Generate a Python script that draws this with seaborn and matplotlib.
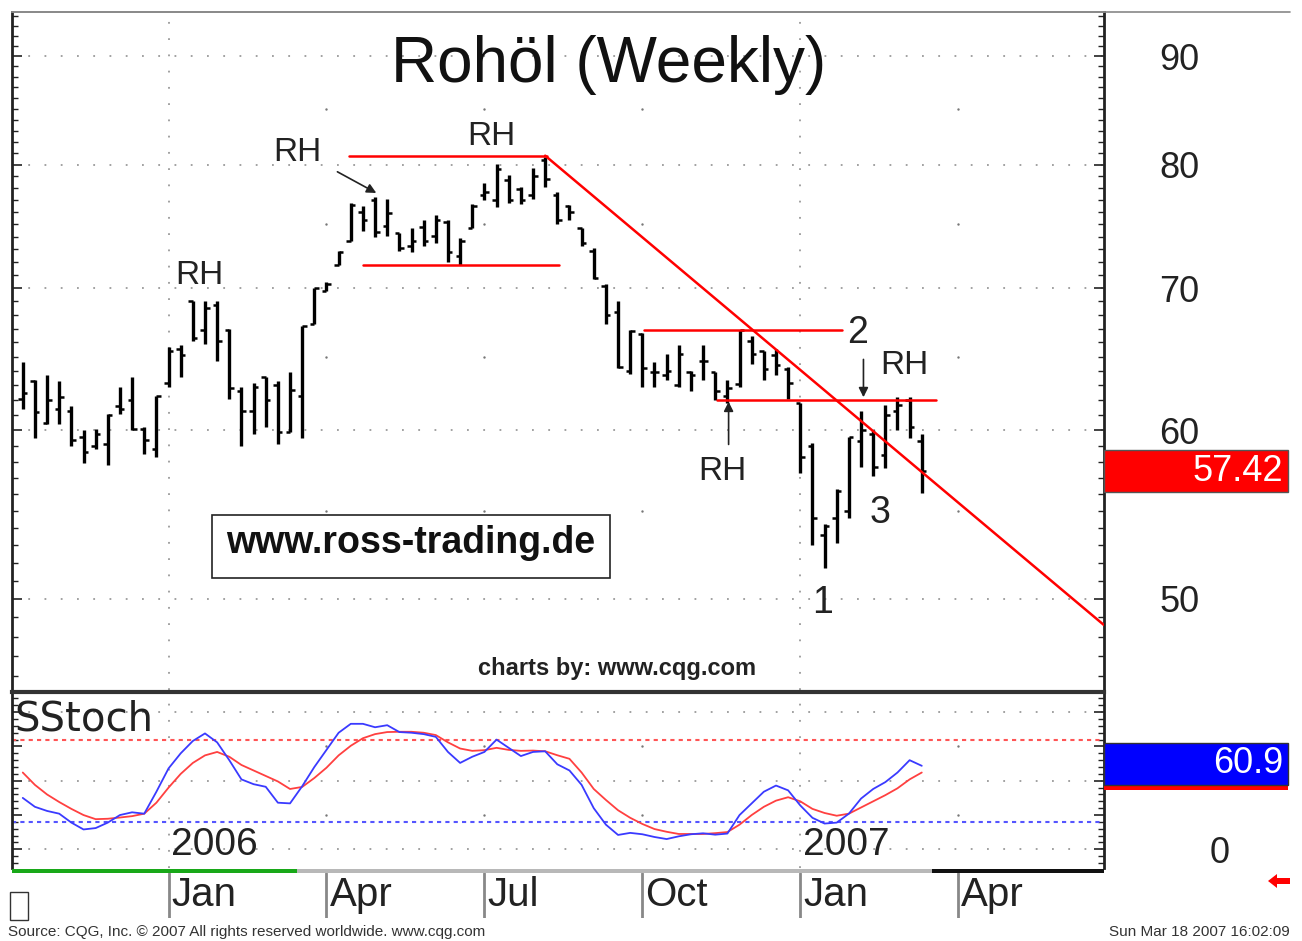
import numpy as np
import pandas as pd
import matplotlib
matplotlib.use("Agg")
import matplotlib.pyplot as plt
import matplotlib.dates as mdates
from matplotlib.patches import Rectangle, Polygon
from matplotlib.lines import Line2D
from matplotlib.ticker import FixedLocator, FixedFormatter, NullFormatter
import seaborn as sns

# weekly OHLC bars (week starting Monday)
week_start = "2005-10-10"
n_weeks = 75

opens = [62.1, 63.3, 60.5, 61.4, 61.3, 59.6, 59.0, 59.1, 61.6, 62.0,
         60.1, 58.8, 63.2, 65.5, 69.0, 66.9, 68.7, 66.9, 62.6, 61.3,
         63.6, 63.0, 59.9, 62.3, 67.3, 69.8, 71.8, 73.7, 76.0, 77.0,
         74.9, 74.3, 73.3, 74.8, 74.1, 75.2, 72.5, 74.7, 77.4, 77.0,
         78.7, 77.9, 77.4, 80.4, 77.4, 76.5, 74.7, 72.9, 70.2, 68.2,
         64.0, 66.6, 63.9, 63.7, 63.0, 63.9, 64.7, 63.9, 62.3, 63.1,
         66.1, 65.4, 65.1, 64.1, 61.8, 59.0, 53.6, 54.6, 55.0, 59.3,
         59.8, 58.4, 61.3, 62.0, 59.3]
highs = [64.6, 63.4, 63.7, 63.3, 61.6, 60.0, 60.1, 61.1, 62.9, 63.6,
         60.2, 62.3, 65.7, 65.8, 69.0, 69.0, 69.0, 67.0, 62.9, 63.2,
         63.6, 63.3, 63.9, 67.2, 70.0, 70.5, 72.9, 76.8, 76.5, 77.3,
         77.1, 74.3, 74.7, 75.4, 75.8, 75.4, 73.9, 76.7, 78.4, 80.1,
         79.1, 78.1, 79.7, 80.7, 77.7, 76.6, 74.7, 73.1, 70.3, 69.0,
         66.9, 66.7, 64.6, 65.2, 65.8, 64.0, 65.8, 63.9, 63.4, 66.9,
         66.5, 65.4, 65.5, 64.3, 61.8, 59.2, 54.2, 56.3, 59.6, 61.3,
         60.0, 61.7, 62.2, 62.2, 59.8]
lows = [61.4, 59.5, 60.4, 60.4, 59.0, 57.9, 58.8, 57.8, 61.1, 60.0,
        58.5, 58.3, 62.9, 63.6, 66.1, 65.9, 64.7, 62.1, 59.0, 59.8,
        60.2, 59.1, 59.9, 59.5, 67.3, 69.8, 71.8, 73.7, 74.5, 74.0,
        74.1, 72.9, 72.8, 73.3, 73.5, 72.0, 71.8, 74.7, 77.0, 76.4,
        76.8, 76.7, 77.1, 78.1, 75.0, 75.4, 73.3, 70.7, 67.3, 64.2,
        63.8, 62.9, 62.9, 63.4, 62.9, 62.6, 63.4, 62.0, 61.8, 62.9,
        64.5, 63.4, 63.7, 62.1, 57.3, 53.0, 51.7, 53.1, 54.6, 57.7,
        57.1, 57.6, 60.0, 59.5, 56.1]
closes = [62.5, 61.2, 62.0, 62.2, 59.4, 58.6, 59.8, 61.0, 61.4, 60.1,
          59.4, 62.3, 65.4, 65.1, 66.3, 68.5, 66.1, 62.8, 61.3, 62.9,
          62.0, 59.9, 62.7, 67.2, 70.0, 70.3, 72.8, 76.6, 75.4, 74.4,
          75.9, 73.1, 73.7, 73.7, 75.4, 72.8, 73.7, 76.5, 77.7, 79.6,
          77.0, 77.0, 79.0, 78.8, 75.4, 76.0, 73.5, 70.8, 68.0, 64.3,
          66.8, 64.2, 63.9, 64.0, 65.2, 63.7, 64.7, 62.6, 62.8, 66.9,
          65.2, 64.1, 64.4, 63.2, 58.3, 54.6, 54.1, 56.2, 59.6, 60.0,
          57.7, 61.0, 61.7, 60.2, 57.42]

# slow stochastic (%K blue, %D red)
stoch_k = [37.5, 31, 28, 26, 19.5, 14.5, 15.5, 19.5, 25, 27,
           26, 42, 59, 70, 79, 84.5, 78, 65, 51, 47.5,
           45.6, 34, 33.5, 46, 60, 72.5, 85, 91.5, 91.5, 89,
           90.5, 85.5, 85, 84, 82, 71, 63, 67.5, 71, 80,
           74, 68, 71, 71.5, 62, 57.5, 47, 30, 18, 10.5,
           12, 11, 9, 7.5, 9.5, 11, 11.7, 10.7, 11.5, 25,
           33.5, 42, 46.5, 43, 32, 23, 18.8, 19.5, 26, 37,
           44, 49, 56, 65, 60.9]
stoch_d = [56, 47, 40, 34.5, 29.5, 25, 22, 22.3, 23.2, 24.2,
           26, 34, 45, 55, 63, 68.5, 71, 67.5, 61.5, 57.5,
           53.5, 49.5, 44, 45.5, 52, 59.5, 68.5, 75.5, 81, 84,
           85.5, 85.7, 85.7, 85, 83.3, 78, 73.5, 71.8, 72.3, 74,
           72.5, 71.8, 72, 71.5, 68.6, 66, 56, 44, 36, 28.5,
           23, 18.5, 14.8, 12.8, 11.2, 11.2, 11.2, 11.8, 12.6, 18,
           25, 31, 35.5, 38, 35, 29.5, 26.5, 24.5, 26, 30.5,
           35, 39.5, 44.5, 51, 56]
stoch_levels = [80, 20]

price_ticks = [50, 60, 70, 80, 90]
quarter_starts = ["2006-01-02", "2006-04-03", "2006-07-03", "2006-10-02", "2007-01-01", "2007-04-02"]
quarter_labels = ["Jan", "Apr", "Jul", "Oct", "Jan", "Apr"]
year_starts = ["2006-01-02", "2007-01-01"]
year_labels = ["2006", "2007"]

# red support / resistance lines drawn on the chart
level_start = ["2006-04-16", "2006-04-24", "2006-10-03", "2006-11-14"]
level_end = ["2006-08-08", "2006-08-15", "2007-01-25", "2007-03-20"]
level_price = [80.8, 71.8, 66.9, 62.0]
trend_dates = ["2006-08-07", "2007-06-25"]
trend_prices = [80.8, 48.6]

sns.set_style("white")
plt.rcParams['font.family'] = ['Liberation Sans', 'DejaVu Sans']

dates = pd.date_range(week_start, periods=n_weeks, freq="7D")
x = mdates.date2num(dates)
qx = mdates.date2num(pd.to_datetime(quarter_starts))
yx = mdates.date2num(pd.to_datetime(year_starts))


def wk(w):
    return x[0] + 7 * w


W, H = 1302, 941
fig = plt.figure(figsize=(W / 100, H / 100), dpi=100)


def fig_box(l, t, r, b):
    return [l / W, 1 - b / H, (r - l) / W, (b - t) / H]


ax = fig.add_axes(fig_box(12, 12, 1104, 690))
ax2 = fig.add_axes(fig_box(12, 692, 1104, 868), sharex=ax)
ax3 = fig.add_axes(fig_box(12, 873, 1104, 918), sharex=ax)
ax.set_xlim(x[0] - 6.2, x[0] + 623)

grid_kw = dict(color='#9a9a9a', ls=(0, (1, 8)), lw=1.3, zorder=0)

# ---- price panel
ax.set_yscale('log')
ax.set_ylim(45.3, 94.4)
for p in price_ticks:
    ax.axhline(p, **grid_kw)
for d in yx:
    ax.axvline(d, **grid_kw)
for d in qx:
    if d not in yx:
        ax.scatter([d] * 4, [55, 65, 75, 85], s=3, color='#777777', zorder=0, linewidths=0)

ax.vlines(x, lows, highs, color='black', lw=2.4, zorder=3)
ax.hlines(opens, x - 2.6, x, color='black', lw=1.8, zorder=3)
ax.hlines(closes, x, x + 2.6, color='black', lw=1.8, zorder=3)

for s, e, p in zip(level_start, level_end, level_price):
    ax.plot(mdates.date2num(pd.to_datetime([s, e])), [p, p], color='red', lw=1.8, zorder=4)
ax.plot(mdates.date2num(pd.to_datetime(trend_dates)), trend_prices, color='red', lw=1.8, zorder=4)

ax.yaxis.set_major_locator(FixedLocator(price_ticks))
ax.yaxis.set_major_formatter(FixedFormatter([str(p) for p in price_ticks]))
ax.yaxis.set_minor_locator(FixedLocator(np.arange(46, 95)))
ax.yaxis.set_minor_formatter(NullFormatter())
ax.tick_params(axis='y', which='both', direction='in', left=True, right=True,
               labelleft=False, labelright=True, colors='#222222')
ax.tick_params(axis='y', which='major', length=7, width=1.2, pad=40, labelsize=26, labelcolor='#222222')
ax.tick_params(axis='y', which='minor', length=4, width=1)
ax.tick_params(axis='x', which='both', bottom=False, top=False, labelbottom=False)
for side in ['left', 'right']:
    ax.spines[side].set_linewidth(2)
    ax.spines[side].set_color('#222222')
ax.spines['top'].set_color('#888888')
ax.spines['top'].set_linewidth(1.2)
ax.spines['bottom'].set_visible(False)

ax.text(0.5467, 0.9218, "Rohöl (Weekly)", transform=ax.transAxes, ha='center', va='center',
        fontsize=46, color='#111111')

lab_kw = dict(ha='center', va='center', fontsize=24, color='#222222', zorder=5)
ax.text(wk(14.5), 71.0, "RH", **lab_kw)
ax.text(wk(22.6), 81.1, "RH", **lab_kw)
ax.text(wk(38.6), 82.5, "RH", **lab_kw)
ax.text(wk(57.6), 57.4, "RH", **lab_kw)
ax.text(wk(72.6), 64.4, "RH", **lab_kw)
num_kw = dict(lab_kw, fontsize=27)
ax.text(wk(68.7), 66.7, "2", **num_kw)
ax.text(wk(70.6), 54.9, "3", **num_kw)
ax.text(wk(65.8), 49.8, "1", **num_kw)

arr_kw = dict(arrowstyle='-|>', color='#222222', lw=1.2, mutation_scale=14, shrinkA=0, shrinkB=0)
ax.annotate('', xy=(wk(29.1), 77.6), xytext=(wk(25.9), 79.4), arrowprops=arr_kw)
ax.annotate('', xy=(wk(69.2), 62.2), xytext=(wk(69.2), 64.8), arrowprops=arr_kw)
ax.annotate('', xy=(wk(58.1), 61.9), xytext=(wk(58.1), 59.1), arrowprops=arr_kw)

ax.add_patch(Rectangle((0.1832, 0.1652), 0.3644, 0.0929, transform=ax.transAxes,
                       fill=False, ec='#222222', lw=1.2))
ax.text(0.3654, 0.2161, "www.ross-trading.de", transform=ax.transAxes, ha='center', va='center',
        fontsize=27, fontweight='bold', color='#111111')
ax.text(0.554, 0.0324, "charts by: www.cqg.com", transform=ax.transAxes, ha='center', va='center',
        fontsize=17, fontweight='bold', color='#222222')

# ---- stochastic panel
ax2.set_ylim(-13.6, 114.7)
for v in [0, 50, 100]:
    ax2.axhline(v, **grid_kw)
for d in yx:
    ax2.axvline(d, **grid_kw)
for d in qx:
    if d not in yx:
        ax2.scatter([d] * 2, [25, 75], s=3, color='#777777', zorder=0, linewidths=0)
ax2.axhline(stoch_levels[0], color='#ff5555', ls=(0, (2, 2)), lw=1.5, zorder=1)
ax2.axhline(stoch_levels[1], color='#5555ff', ls=(0, (2, 2)), lw=1.5, zorder=1)

sns.lineplot(x=x, y=stoch_d, ax=ax2, color='#ff4040', lw=1.3, zorder=3)
sns.lineplot(x=x, y=stoch_k, ax=ax2, color='#3a3aff', lw=1.3, zorder=4)
ax2.set_xlabel('')
ax2.set_ylabel('')

ax2.text(0.002, 0.955, "SStoch", transform=ax2.transAxes, ha='left', va='top', fontsize=29,
         family=['DejaVu Sans'], color='#222222')
for d, lab in zip(yx, year_labels):
    ax2.text(d + 1.5, -10.0, lab, ha='left', va='bottom', fontsize=28, color='#222222')

ax2.yaxis.set_major_locator(FixedLocator([0, 25, 50, 75, 100]))
ax2.yaxis.set_major_formatter(FixedFormatter(['0', '', '', '', '']))
ax2.yaxis.set_minor_locator(FixedLocator(np.arange(-10, 115, 5)))
ax2.yaxis.set_minor_formatter(NullFormatter())
ax2.tick_params(axis='y', which='both', direction='in', left=True, right=True,
                labelleft=False, labelright=True, colors='#222222')
ax2.tick_params(axis='y', which='major', length=7, width=1.2, pad=76, labelsize=26)
ax2.tick_params(axis='y', which='minor', length=4, width=1)
ax2.tick_params(axis='x', which='both', bottom=False, top=False, labelbottom=False)
for side in ['left', 'right']:
    ax2.spines[side].set_linewidth(2)
    ax2.spines[side].set_color('#222222')
ax2.spines['top'].set_linewidth(3)
ax2.spines['top'].set_color('#333333')
ax2.spines['bottom'].set_visible(False)

# ---- month band
ax3.set_ylim(0, 1)
ax3.axis('off')
for d, lab in zip(qx, quarter_labels):
    ax3.axvline(d, color='#888888', lw=2)
    ax3.text(d + 1.8, 0.5, lab, ha='left', va='center', fontsize=29, color='#222222')

# scroll strip under the indicator panel
fig.add_artist(Rectangle((12 / W, 1 - 873 / H), 285 / W, 4 / H, transform=fig.transFigure, fc='#18a818', ec='none'))
fig.add_artist(Rectangle((297 / W, 1 - 873 / H), 635 / W, 4 / H, transform=fig.transFigure, fc='#b8b8b8', ec='none'))
fig.add_artist(Rectangle((932 / W, 1 - 873 / H), 172 / W, 4 / H, transform=fig.transFigure, fc='#111111', ec='none'))

# top border line
fig.add_artist(Line2D([12 / W, 1290 / W], [1 - 11.5 / H] * 2, color='#888888', lw=1.2))


def value_y(axis, v):
    return fig.transFigure.inverted().transform(axis.transData.transform((x[0], v)))[1]


# last price box
yc = value_y(ax, closes[-1])
fig.add_artist(Rectangle((1104 / W, yc - 21 / H), 184 / W, 42 / H, transform=fig.transFigure,
                         fc='#ff0000', ec='#555555', lw=1))
fig.text(1283 / W, yc, f"{closes[-1]:.2f}", ha='right', va='center', fontsize=26, color='white')

# last stochastic box
yk = value_y(ax2, stoch_k[-1])
fig.add_artist(Rectangle((1104 / W, yk - 24 / H), 184 / W, 5 / H, transform=fig.transFigure,
                         fc='#ff0000', ec='none'))
fig.add_artist(Rectangle((1104 / W, yk - 19 / H), 184 / W, 42 / H, transform=fig.transFigure,
                         fc='#0000ff', ec='#333333', lw=1))
fig.text(1283 / W, yk + 2 / H, f"{stoch_k[-1]:.1f}", ha='right', va='center', fontsize=26, color='white')

# small red arrow and empty square
ya = 1 - 881 / H
fig.add_artist(Polygon([(1268 / W, ya), (1277 / W, ya + 7 / H), (1277 / W, ya + 3 / H), (1290 / W, ya + 3 / H),
                        (1290 / W, ya - 3 / H), (1277 / W, ya - 3 / H), (1277 / W, ya - 7 / H)],
                       closed=True, transform=fig.transFigure, fc='red', ec='none'))
fig.add_artist(Rectangle((10 / W, 1 - 920 / H), 18 / W, 28 / H, transform=fig.transFigure,
                         fill=False, ec='#333333', lw=1))

fig.text(8 / W, 1 - 932 / H, "Source: CQG, Inc. \u00a9 2007 All rights reserved worldwide. www.cqg.com",
         ha='left', va='center', fontsize=11, color='#333333')
fig.text(1290 / W, 1 - 932 / H, "Sun Mar 18 2007 16:02:09", ha='right', va='center', fontsize=11, color='#333333')

fig.savefig("out.png", dpi=100)
